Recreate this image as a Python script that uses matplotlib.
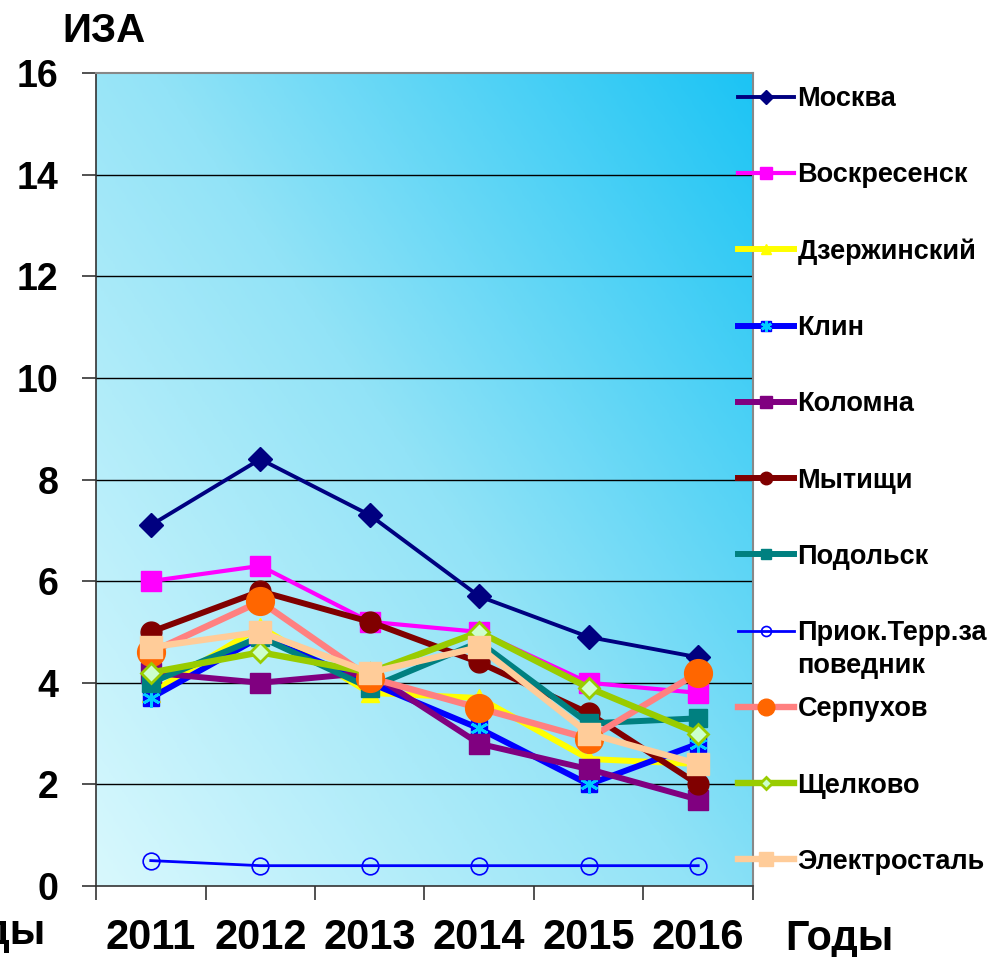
import numpy as np
import matplotlib
matplotlib.use('Agg')
import matplotlib.pyplot as plt
from matplotlib.colors import LinearSegmentedColormap
from matplotlib.legend_handler import HandlerTuple

plt.rcParams['font.family'] = ['Liberation Sans', 'DejaVu Sans']
plt.rcParams['font.weight'] = 'bold'

years = ['2011', '2012', '2013', '2014', '2015', '2016']
y_ticks = [0, 2, 4, 6, 8, 10, 12, 14, 16]

moskva = [7.1, 8.4, 7.3, 5.7, 4.9, 4.5]
voskresensk = [6.0, 6.3, 5.2, 5.0, 4.0, 3.8]
dzerzhinsky = [3.8, 5.1, 3.8, 3.7, 2.5, 2.4]
klin = [3.7, 4.9, 4.0, 3.1, 2.0, 2.8]
kolomna = [4.2, 4.0, 4.2, 2.8, 2.3, 1.7]
mytishchi = [5.0, 5.8, 5.2, 4.4, 3.4, 2.0]
podolsk = [4.0, 4.9, 3.9, 4.8, 3.2, 3.3]
priok = [0.5, 0.4, 0.4, 0.4, 0.4, 0.4]
serpukhov = [4.6, 5.6, 4.1, 3.5, 2.9, 4.2]
shchelkovo = [4.2, 4.6, 4.2, 5.0, 3.9, 3.0]
elektrostal = [4.7, 5.0, 4.2, 4.7, 3.0, 2.4]

names = ['Москва', 'Воскресенск', 'Дзержинский', 'Клин', 'Коломна', 'Мытищи',
         'Подольск', 'Приок.Терр.за', 'Серпухов', 'Щелково', 'Электросталь']
name_second_line = 'поведник'
series = [moskva, voskresensk, dzerzhinsky, klin, kolomna, mytishchi,
          podolsk, priok, serpukhov, shchelkovo, elektrostal]

styles = [
    dict(color='#000080', lw=2.8, marker='D', ms=12, mfc='#000080', mec='#000080'),
    dict(color='#ff00ff', lw=3.0, marker='s', ms=15, mfc='#ff00ff', mec='#ff00ff'),
    dict(color='#ffff00', lw=4.3, marker='^', ms=13, mfc='#ffff00', mec='#ffff00'),
    dict(color='#0000ff', lw=4.3, marker='s', ms=12, mfc='#0000ff', mec='#0000ff'),
    dict(color='#800080', lw=4.3, marker='s', ms=14, mfc='#800080', mec='#800080'),
    dict(color='#800000', lw=4.3, marker='o', ms=15, mfc='#800000', mec='#800000'),
    dict(color='#008080', lw=4.3, marker='s', ms=13, mfc='#008080', mec='#008080'),
    dict(color='#0000ff', lw=2.0, marker='o', ms=12, mfc='none', mec='#0000ff', mew=1.2),
    dict(color='#ff8080', lw=4.6, marker='o', ms=20, mfc='#ff6600', mec='#ff6600'),
    dict(color='#99cc00', lw=4.6, marker='D', ms=10, mfc='#ccffcc', mec='#99cc00', mew=2),
    dict(color='#ffcc99', lw=4.6, marker='s', ms=16, mfc='#ffcc99', mec='#ffcc99'),
]

W, H = 1003, 957
fig = plt.figure(figsize=(W / 100, H / 100), dpi=100)
left, right, top, bottom = 96, 753, 73, 886
ax = fig.add_axes([left / W, 1 - bottom / H, (right - left) / W, (bottom - top) / H])

# gradient background
cmap = LinearSegmentedColormap.from_list('bg', ['#d8f8fd', '#92e3f7', '#1cc4f4'])
n = 300
u = np.linspace(0, 1, n)
U, V = np.meshgrid(u, u)
G = (U * 0.55 + V * 0.45)
ax.imshow(G, cmap=cmap, origin='lower', extent=[0, 1, 0, 1], transform=ax.transAxes,
          aspect='auto', zorder=0, interpolation='bilinear')

x = np.arange(len(years))
handles = []
for i, (name, vals, st) in enumerate(zip(names, series, styles)):
    ln, = ax.plot(x, vals, label=name, zorder=3 + i * 0.01, **st)
    if name == 'Клин':
        ast, = ax.plot(x, vals, ls='none', marker=(6, 2, 0), ms=13, mec='#00ccff',
                       mew=2, zorder=3 + i * 0.01 + 0.005, label='_nolegend_')
        handles.append((ln, ast))
    else:
        handles.append(ln)

ax.set_xlim(-0.5, len(years) - 0.5)
ax.set_ylim(0, 16)
ax.set_yticks(y_ticks)
ax.set_yticklabels([str(t) for t in y_ticks], fontsize=27, fontweight='bold')
ax.tick_params(axis='y', length=10, width=1.2, pad=17, color='#333333')
ax.set_xticks(x)
ax.set_xticklabels(years, fontsize=30, fontweight='bold')
ax.tick_params(axis='x', which='major', length=0, pad=23)
ax.set_xticks(np.arange(-0.5, len(years), 1), minor=True)
ax.tick_params(axis='x', which='minor', length=10, width=1.2, color='#333333')

for t in y_ticks[1:-1]:
    ax.axhline(t, color='black', lw=1.0, zorder=1)

for side in ['top', 'right']:
    ax.spines[side].set_color('#888888')
    ax.spines[side].set_linewidth(1.5)
ax.spines['left'].set_color('#333333')
ax.spines['bottom'].set_color('#333333')
ax.spines['left'].set_linewidth(1.2)
ax.spines['bottom'].set_linewidth(1.2)

fig.text(62 / W, 1 - 42 / H, 'ИЗА', fontsize=29, fontweight='bold', ha='left', va='baseline')
fig.text(785 / W, 1 - 950 / H, 'Годы', fontsize=30, fontweight='bold', ha='left', va='baseline')
fig.text(45 / W, 1 - 944 / H, 'Годы', fontsize=30, fontweight='bold', ha='right', va='baseline')

leg = ax.legend(handles, names, loc='upper left', bbox_to_anchor=(738 / W, 1 - 86 / H),
                bbox_transform=fig.transFigure, frameon=False, fontsize=19.5,
                labelspacing=1.855, handlelength=2.05, handletextpad=0.15,
                borderpad=0, borderaxespad=0, markerscale=0.6,
                handler_map={tuple: HandlerTuple(ndivide=1)})
for txt in leg.get_texts():
    txt.set_fontweight('bold')

priok_txt = leg.get_texts()[7]
ann = ax.annotate(name_second_line, xy=(0, 0), xycoords=priok_txt, xytext=(0, -5),
                  textcoords='offset points', ha='left', va='top', fontsize=19.5,
                  fontweight='bold', annotation_clip=False, zorder=10)

fig.savefig('out.png', dpi=100)
